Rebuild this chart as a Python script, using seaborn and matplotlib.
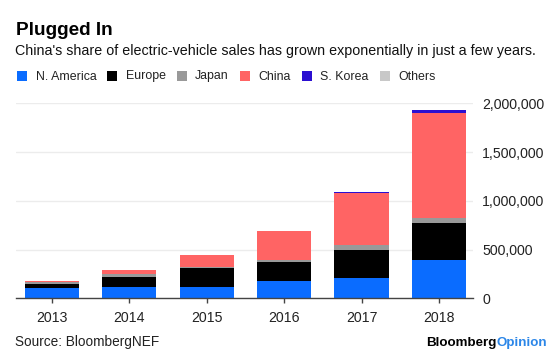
import matplotlib
matplotlib.use("Agg")
import matplotlib.pyplot as plt
import seaborn as sns
import numpy as np
import pandas as pd
from matplotlib.patches import Rectangle
from matplotlib.ticker import FuncFormatter

# ---- data ----
years = ["2013", "2014", "2015", "2016", "2017", "2018"]
n_america = [103000, 119000, 116000, 174000, 208000, 393000]
europe = [44000, 96000, 192000, 198000, 284000, 382000]
japan = [17000, 34000, 13000, 18000, 52000, 45000]
china = [13000, 38000, 120000, 297000, 533000, 1077000]
s_korea = [1000, 1000, 2000, 3000, 10000, 31000]
others = [0, 0, 0, 0, 0, 0]

regions = ["N. America", "Europe", "Japan", "China", "S. Korea", "Others"]
colors = ["#0A6CFF", "#000000", "#999999", "#FF6464", "#2B0FD1", "#C8C8C8"]
series = [n_america, europe, japan, china, s_korea, others]

sns.set_theme(style="white")
plt.rcParams['font.family'] = ['Liberation Sans', 'DejaVu Sans']

W, H = 560, 356
fig = plt.figure(figsize=(W / 100, H / 100), dpi=100)
ax = fig.add_axes([16 / W, 1 - 298.3 / H, (473 - 16) / W, (298.3 - 103.3) / H])

df = pd.DataFrame({r: s for r, s in zip(regions, series)}, index=years)
cum = df.cumsum(axis=1)

# draw stacked bars: topmost cumulative first, then overlay lower layers
for r, c in list(zip(regions, colors))[::-1]:
    sns.barplot(x=years, y=cum[r].values, color=c, width=0.7, saturation=1,
                linewidth=0, ax=ax, zorder=3)

ax.set_ylim(0, 2_000_000)
ax.set_xlim(-0.465, 5.44)
ax.set_yticks([0, 500000, 1000000, 1500000, 2000000])
ax.yaxis.set_major_formatter(FuncFormatter(lambda v, p: f"{int(v):,}"))
ax.yaxis.tick_right()
ax.yaxis.grid(True, color="#ececec", lw=1)
ax.set_axisbelow(True)
for s in ["left", "top", "right"]:
    ax.spines[s].set_visible(False)
ax.spines["bottom"].set_color("#444444")
ax.spines["bottom"].set_linewidth(1)
ax.spines["bottom"].set_zorder(5)
ax.tick_params(axis="y", length=0, pad=6.5, labelsize=10.2, labelcolor="#222222")
ax.tick_params(axis="x", length=3.6, width=1, color="#444444", pad=5.5,
               labelsize=10.2, labelcolor="#222222", bottom=True)
ax.set_xlabel("")
ax.set_ylabel("")

# ---- titles ----
fig.text(15.5 / W, 1 - 35 / H, "Plugged In", fontsize=13.7, fontweight="bold",
         color="#000000", va="baseline", ha="left")
fig.text(15 / W, 1 - 54.5 / H,
         "China's share of electric-vehicle sales has grown exponentially in just a few years.",
         fontsize=10.3, color="#111111", va="baseline", ha="left")

# ---- legend (manual row) ----
fig.canvas.draw()
renderer = fig.canvas.get_renderer()
x = 17.0
y_base = 79.5
for r, c in zip(regions, colors):
    fig.add_artist(Rectangle((x / W, 1 - 80.5 / H), 10 / W, 10 / H,
                             transform=fig.transFigure, facecolor=c,
                             edgecolor="none"))
    t = fig.text((x + 18.5) / W, 1 - y_base / H, r, fontsize=8.9,
                 color="#222222", va="baseline", ha="left")
    bb = t.get_window_extent(renderer)
    x = bb.x1 + 11

# ---- footer ----
fig.text(15 / W, 1 - 346 / H, "Source: BloombergNEF", fontsize=9.8,
         color="#222222", va="baseline", ha="left")
t2 = fig.text(547 / W, 1 - 346 / H, "Opinion", fontsize=9.6, fontweight="bold",
              color="#2B86E8", va="baseline", ha="right")
bb2 = t2.get_window_extent(renderer)
fig.text(bb2.x0 / W, 1 - 346 / H, "Bloomberg", fontsize=9.6, fontweight="bold",
         color="#000000", va="baseline", ha="right")

fig.savefig("out.png", dpi=100, facecolor="white")
